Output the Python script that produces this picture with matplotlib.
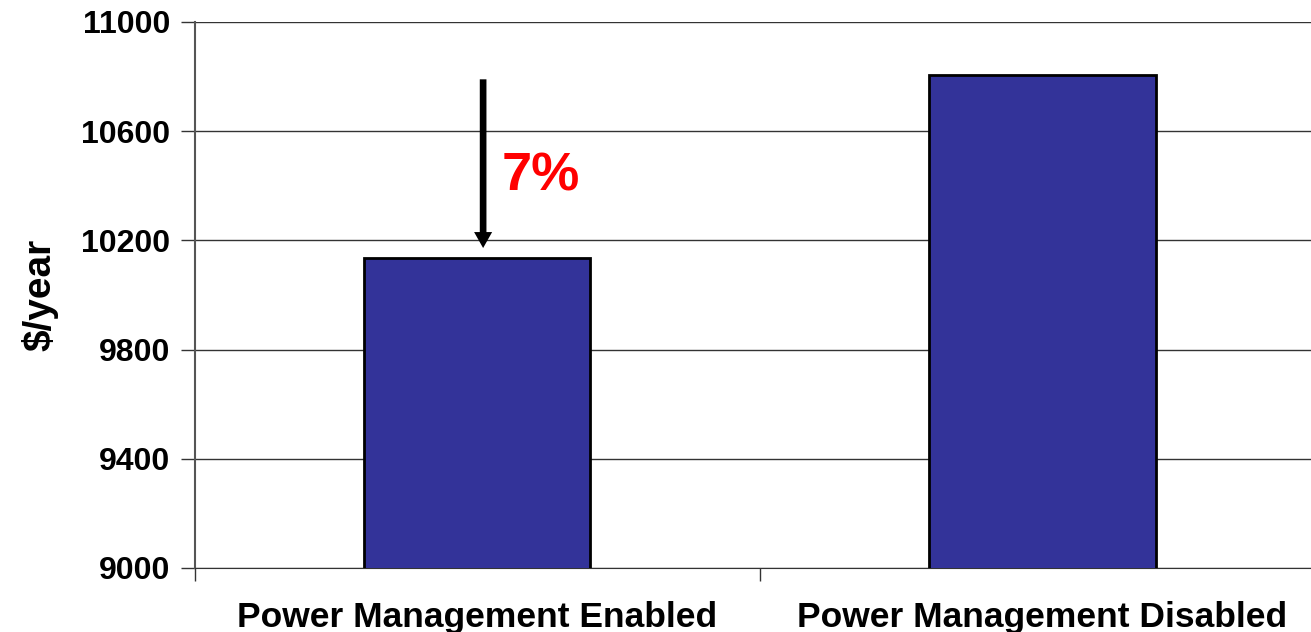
#!/usr/bin/env python3
# -*- coding: utf-8 -*-

"""
Annual cost: power management enabled vs disabled.
Output: out.png
"""

import numpy as np
import matplotlib
matplotlib.use("Agg")
import matplotlib.pyplot as plt

# data
categories = ["Power Management Enabled", "Power Management Disabled"]
cost_per_year = [10137, 10806]
y_ticks = [9000, 9400, 9800, 10200, 10600, 11000]
savings_label = "7%"
arrow_from = 10790
arrow_to = 10172

BAR_COLOR = "#333399"

plt.rcParams["font.family"] = ["Liberation Sans", "DejaVu Sans"]
plt.rcParams["font.weight"] = "bold"


def main():
    fig = plt.figure(figsize=(13.11, 6.32), dpi=100)
    ax = fig.add_axes([0.1487, 0.1013, 0.862, 0.8639])

    x = np.arange(len(categories))
    ax.bar(x, cost_per_year, width=0.40, color=BAR_COLOR,
           edgecolor="black", linewidth=2, zorder=3)

    ax.set_xlim(-0.5, len(categories) - 0.5)
    ax.set_ylim(y_ticks[0], y_ticks[-1])
    ax.set_yticks(y_ticks)
    ax.set_yticklabels([str(v) for v in y_ticks], fontsize=23,
                       fontweight="bold")
    ax.yaxis.grid(True, color="#333333", linewidth=1.0, zorder=0)

    # category boundaries as major ticks, labels on minor ticks
    ax.set_xticks(np.arange(len(categories) + 1) - 0.5)
    ax.set_xticklabels([])
    ax.set_xticks(x, minor=True)
    ax.set_xticklabels(categories, minor=True, fontsize=25.5,
                       fontweight="bold")
    ax.tick_params(axis="x", which="minor", length=0, pad=24)
    ax.tick_params(axis="x", which="major", length=9, width=1,
                   color="#333333")
    ax.tick_params(axis="y", length=10, width=1, color="#333333", pad=8)

    for side in ("top", "right"):
        ax.spines[side].set_visible(False)
    ax.spines["left"].set_color("#555555")
    ax.spines["left"].set_linewidth(1.5)
    ax.spines["bottom"].set_color("#333333")

    ax.set_ylabel("$/year", fontsize=28, fontweight="bold", labelpad=16)

    # savings arrow
    ax.annotate("", xy=(0.01, arrow_to), xytext=(0.01, arrow_from),
                arrowprops=dict(width=4.8, headwidth=13, headlength=11.5,
                                shrink=0, facecolor="black",
                                edgecolor="black", linewidth=0),
                zorder=4)
    ax.text(0.043, 10384, savings_label, color="red", fontsize=39,
            fontweight="bold", ha="left", va="baseline", zorder=5)

    fig.savefig("out.png", dpi=100)
    plt.close(fig)


if __name__ == "__main__":
    main()
